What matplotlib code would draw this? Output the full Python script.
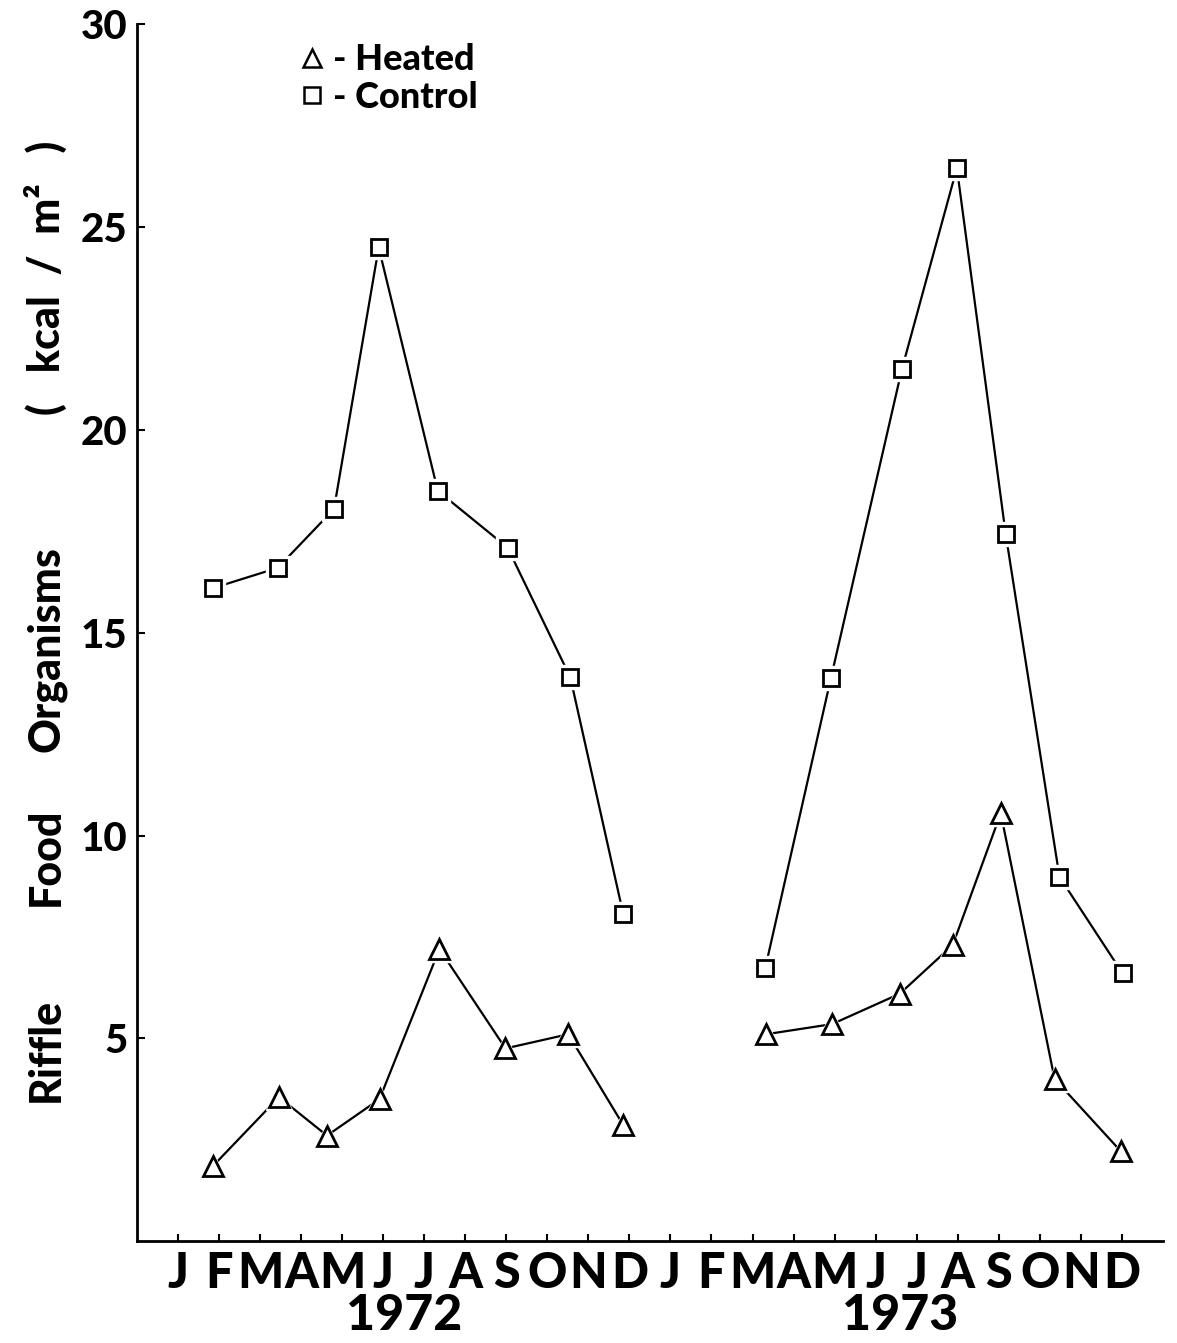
import matplotlib
matplotlib.use("Agg")
import matplotlib.pyplot as plt

plt.rcParams.update({
    "font.family": ["Lato", "DejaVu Sans"],
    "font.weight": "bold",
})

# month index: 0 = Jan 1972, 12 = Jan 1973
ctrl_72_x = [0.85, 2.43, 3.80, 4.89, 6.33, 8.03, 9.56, 10.85]
ctrl_72_y = [16.1, 16.6, 18.05, 24.5, 18.5, 17.1, 13.9, 8.06]
heat_72_x = [0.85, 2.46, 3.63, 4.91, 6.37, 7.98, 9.51, 10.85]
heat_72_y = [1.85, 3.55, 2.6, 3.5, 7.2, 4.75, 5.1, 2.86]

ctrl_73_x = [14.31, 15.91, 17.64, 18.98, 20.17, 21.48, 23.02]
ctrl_73_y = [6.73, 13.88, 21.5, 26.46, 17.43, 8.98, 6.6]
heat_73_x = [14.33, 15.94, 17.59, 18.88, 20.05, 21.36, 22.97]
heat_73_y = [5.1, 5.35, 6.1, 7.3, 10.55, 4.0, 2.22]

month_labels = list("JFMAMJJASOND") * 2
year_labels = ["1972", "1973"]
year_centers = [5.5, 17.6]
y_ticks = [5, 10, 15, 20, 25, 30]

# y label words, placed one by one (figure y of each word's centre)
ylabel_words = ["Riffle", "Food", "Organisms", "(   kcal  /  m²   )"]
ylabel_pos = [0.218, 0.362, 0.517, 0.793]


def draw_series(ax, xs, ys, marker, ms):
    ax.plot(xs, ys, color="black", lw=1.6, zorder=1)
    # white halo so the line stops short of each marker
    ax.plot(xs, ys, ls="none", marker=marker, ms=ms + 5, mfc="white", mec="white", zorder=2)
    ax.plot(xs, ys, ls="none", marker=marker, ms=ms, mfc="white", mec="black", mew=2.0, zorder=3)


fig = plt.figure(figsize=(11.77, 13.43), dpi=100)
ax = fig.add_axes([0.1164, 0.0759, 0.8716, 0.9059])

draw_series(ax, ctrl_72_x, ctrl_72_y, "s", 12)
draw_series(ax, ctrl_73_x, ctrl_73_y, "s", 12)
draw_series(ax, heat_72_x, heat_72_y, "^", 14)
draw_series(ax, heat_73_x, heat_73_y, "^", 14)

ax.set_xlim(-1, 24)
ax.set_ylim(0, 30)
ax.set_xticks(range(24))
ax.set_xticklabels(month_labels, fontsize=35, fontweight="black")
ax.set_yticks(y_ticks)
ax.set_yticklabels([str(v) for v in y_ticks], fontsize=29, fontweight="black")
ax.tick_params(axis="x", direction="in", length=5, width=1.5, pad=7)
ax.tick_params(axis="y", direction="in", length=6, width=1.5, pad=7)

for s in ["top", "right"]:
    ax.spines[s].set_visible(False)
for s in ["left", "bottom"]:
    ax.spines[s].set_linewidth(2)

for label, xc in zip(year_labels, year_centers):
    ax.text(xc, -0.061, label, transform=ax.get_xaxis_transform(),
            ha="center", va="center", fontsize=36, fontweight="black")

for word, yp in zip(ylabel_words, ylabel_pos):
    fig.text(0.039, yp, word, rotation=90, ha="center", va="center",
             fontsize=31, fontweight="black")

# legend drawn as markers + text
ax.plot([], [], ls="none", marker="^", ms=13, mfc="white", mec="black", mew=1.8, label="- Heated")
ax.plot([], [], ls="none", marker="s", ms=12, mfc="white", mec="black", mew=1.8, label="- Control")
leg = ax.legend(loc="upper left", bbox_to_anchor=(0.228, 0.992), bbox_transform=fig.transFigure,
                frameon=False, handlelength=0.6, handletextpad=0.3, labelspacing=0.12,
                prop={"size": 26, "weight": "black"})

fig.savefig("out.png", dpi=100)
